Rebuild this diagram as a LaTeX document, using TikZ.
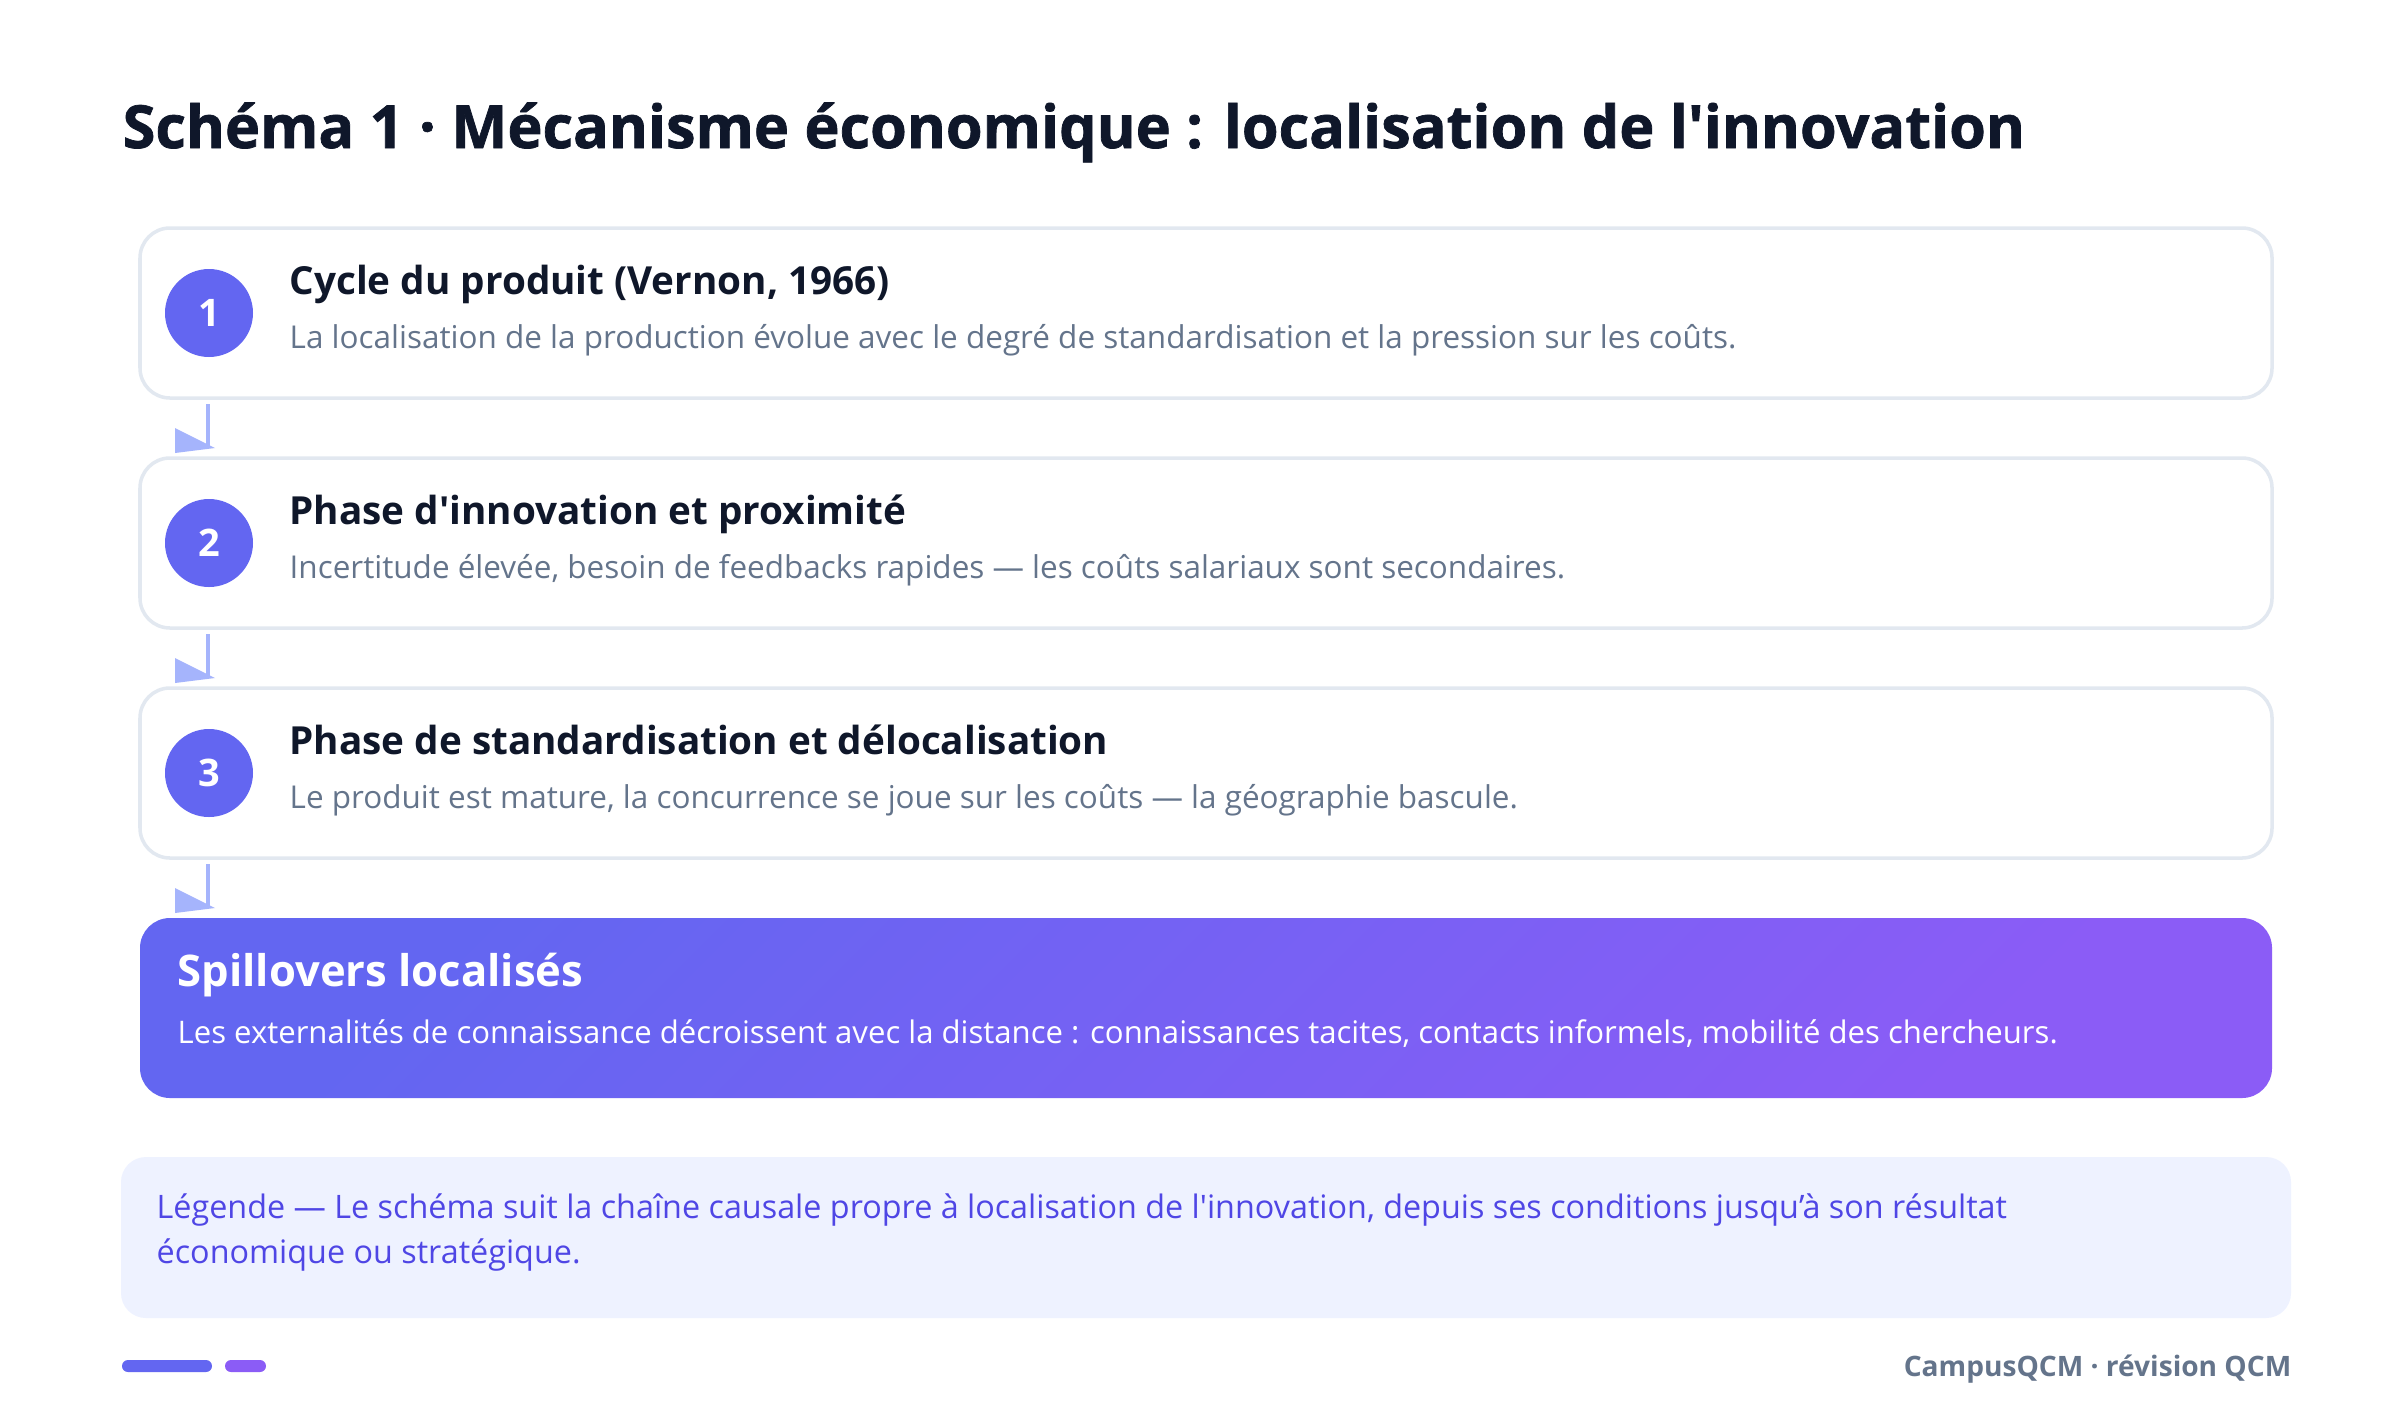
\documentclass[tikz,border=0pt]{standalone}
\usepackage{fontspec}
\setmainfont{Open Sans}[Ligatures=TeXOff]
\newfontfamily\headfont{Open Sans}[Ligatures=TeXOff, BoldFeatures={FakeBold=1.2}]
\usepackage{xcolor}
\usetikzlibrary{positioning}

\definecolor{ink}{HTML}{0F172A}
\definecolor{muted}{HTML}{64748B}
\definecolor{indigo}{HTML}{6366F1}
\definecolor{violet}{HTML}{8B5CF6}
\definecolor{cardline}{HTML}{E2E8F0}
\definecolor{flowc}{HTML}{A5B4FC}
\definecolor{legendbg}{HTML}{EEF2FF}
\definecolor{legendtxt}{HTML}{4F46E5}

\tikzset{
  stepbox/.style={draw=cardline, line width=1pt, fill=white, rounded corners=0.3cm,
    minimum width=21.32cm, minimum height=1.70cm, inner sep=0pt, outer sep=0pt},
  numdot/.style={circle, fill=indigo, minimum size=0.88cm, inner sep=0pt,
    text=white, font=\fontsize{10.8}{12}\selectfont\bfseries},
  steptitle/.style={anchor=base west, inner sep=0pt, text=ink,
    font=\fontsize{11}{13}\selectfont\bfseries},
  stepdesc/.style={anchor=base west, inner sep=0pt, text=muted,
    font=\fontsize{8.95}{10}\selectfont},
  flowline/.style={draw=flowc, line width=1.4pt},
}

\begin{document}
\begin{tikzpicture}
    \useasboundingbox[fill=white] (0,0) rectangle (24,-14.2);

    % title
    \node[anchor=base west, inner sep=0pt, text=ink, font=\fontsize{16.9}{19}\selectfont\headfont\bfseries]
        (title) at (1.22,-1.48) {Schéma 1 · Mécanisme économique : localisation de l'innovation};

    % the three steps
    \node[stepbox, anchor=north west] (s1) at (1.40,-2.28) {};
    \node[stepbox, below=0.60cm of s1] (s2) {};
    \node[stepbox, below=0.60cm of s2] (s3) {};

    % outcome
    \node[below=0.60cm of s3, minimum width=21.32cm, minimum height=1.80cm, inner sep=0pt, outer sep=0pt,
        rounded corners=0.3cm, left color=indigo, right color=violet, shading angle=45] (out) {};

    % legend
    \node[below=0.59cm of out, minimum width=21.70cm, minimum height=1.61cm, inner sep=0pt, outer sep=0pt,
        rounded corners=0.25cm, fill=legendbg] (leg) {};

    \foreach \s/\n/\t/\d in {
        s1/1/{Cycle du produit (Vernon, 1966)}/{La localisation de la production évolue avec le degré de standardisation et la pression sur les coûts.},
        s2/2/{Phase d'innovation et proximité}/{Incertitude élevée, besoin de feedbacks rapides — les coûts salariaux sont secondaires.},
        s3/3/{Phase de standardisation et délocalisation}/{Le produit est mature, la concurrence se joue sur les coûts — la géographie bascule.}}{
        \node[numdot] (\s-num) at ([xshift=0.69cm]\s.west) {\n};
        \node[steptitle] (\s-title) at ([shift={(1.49,0.19)}]\s.west) {\t};
        \node[stepdesc] (\s-desc) at ([shift={(1.49,-0.35)}]\s.west) {\d};
    }

    \node[anchor=base west, inner sep=0pt, text=white, font=\fontsize{12.4}{14}\selectfont\bfseries]
        (out-title) at ([shift={(0.37,0.22)}]out.west) {Spillovers localisés};
    \node[anchor=base west, inner sep=0pt, text=white, font=\fontsize{8.85}{10}\selectfont]
        (out-desc) at ([shift={(0.37,-0.35)}]out.west) {Les externalités de connaissance décroissent avec la distance : connaissances tacites, contacts informels, mobilité des chercheurs.};

    \node[anchor=base west, inner sep=0pt, text=legendtxt, align=left,
        font=\fontsize{9.2}{12.8}\selectfont] (leg-text) at ([shift={(0.35,-1.06)}]leg.north west)
        {Légende — Le schéma suit la chaîne causale propre à localisation de l'innovation, depuis ses conditions jusqu’à son résultat\\économique ou stratégique.};

    % connectors
    \foreach \a/\b in {s1/s2, s2/s3, s3/out}{
        \draw[flowline] ([shift={(0.68,-0.06)}]\a.south west) -- ([shift={(0.68,0.11)}]\b.north west);
        \fill[flowc] ([shift={(0.35,-0.30)}]\a.south west) -- ++(0,-0.25) -- ++(0.40,0.05) -- cycle;
    }

    % footer
    \fill[indigo, rounded corners=0.06cm] (1.22,-13.60) rectangle (2.12,-13.72);
    \fill[violet, rounded corners=0.06cm] (2.25,-13.60) rectangle (2.66,-13.72);
    \node[anchor=base east, inner sep=0pt, text=muted, font=\fontsize{8}{9}\selectfont\bfseries]
        (foot) at (22.92,-13.76) {CampusQCM · révision QCM};
\end{tikzpicture}
\end{document}
